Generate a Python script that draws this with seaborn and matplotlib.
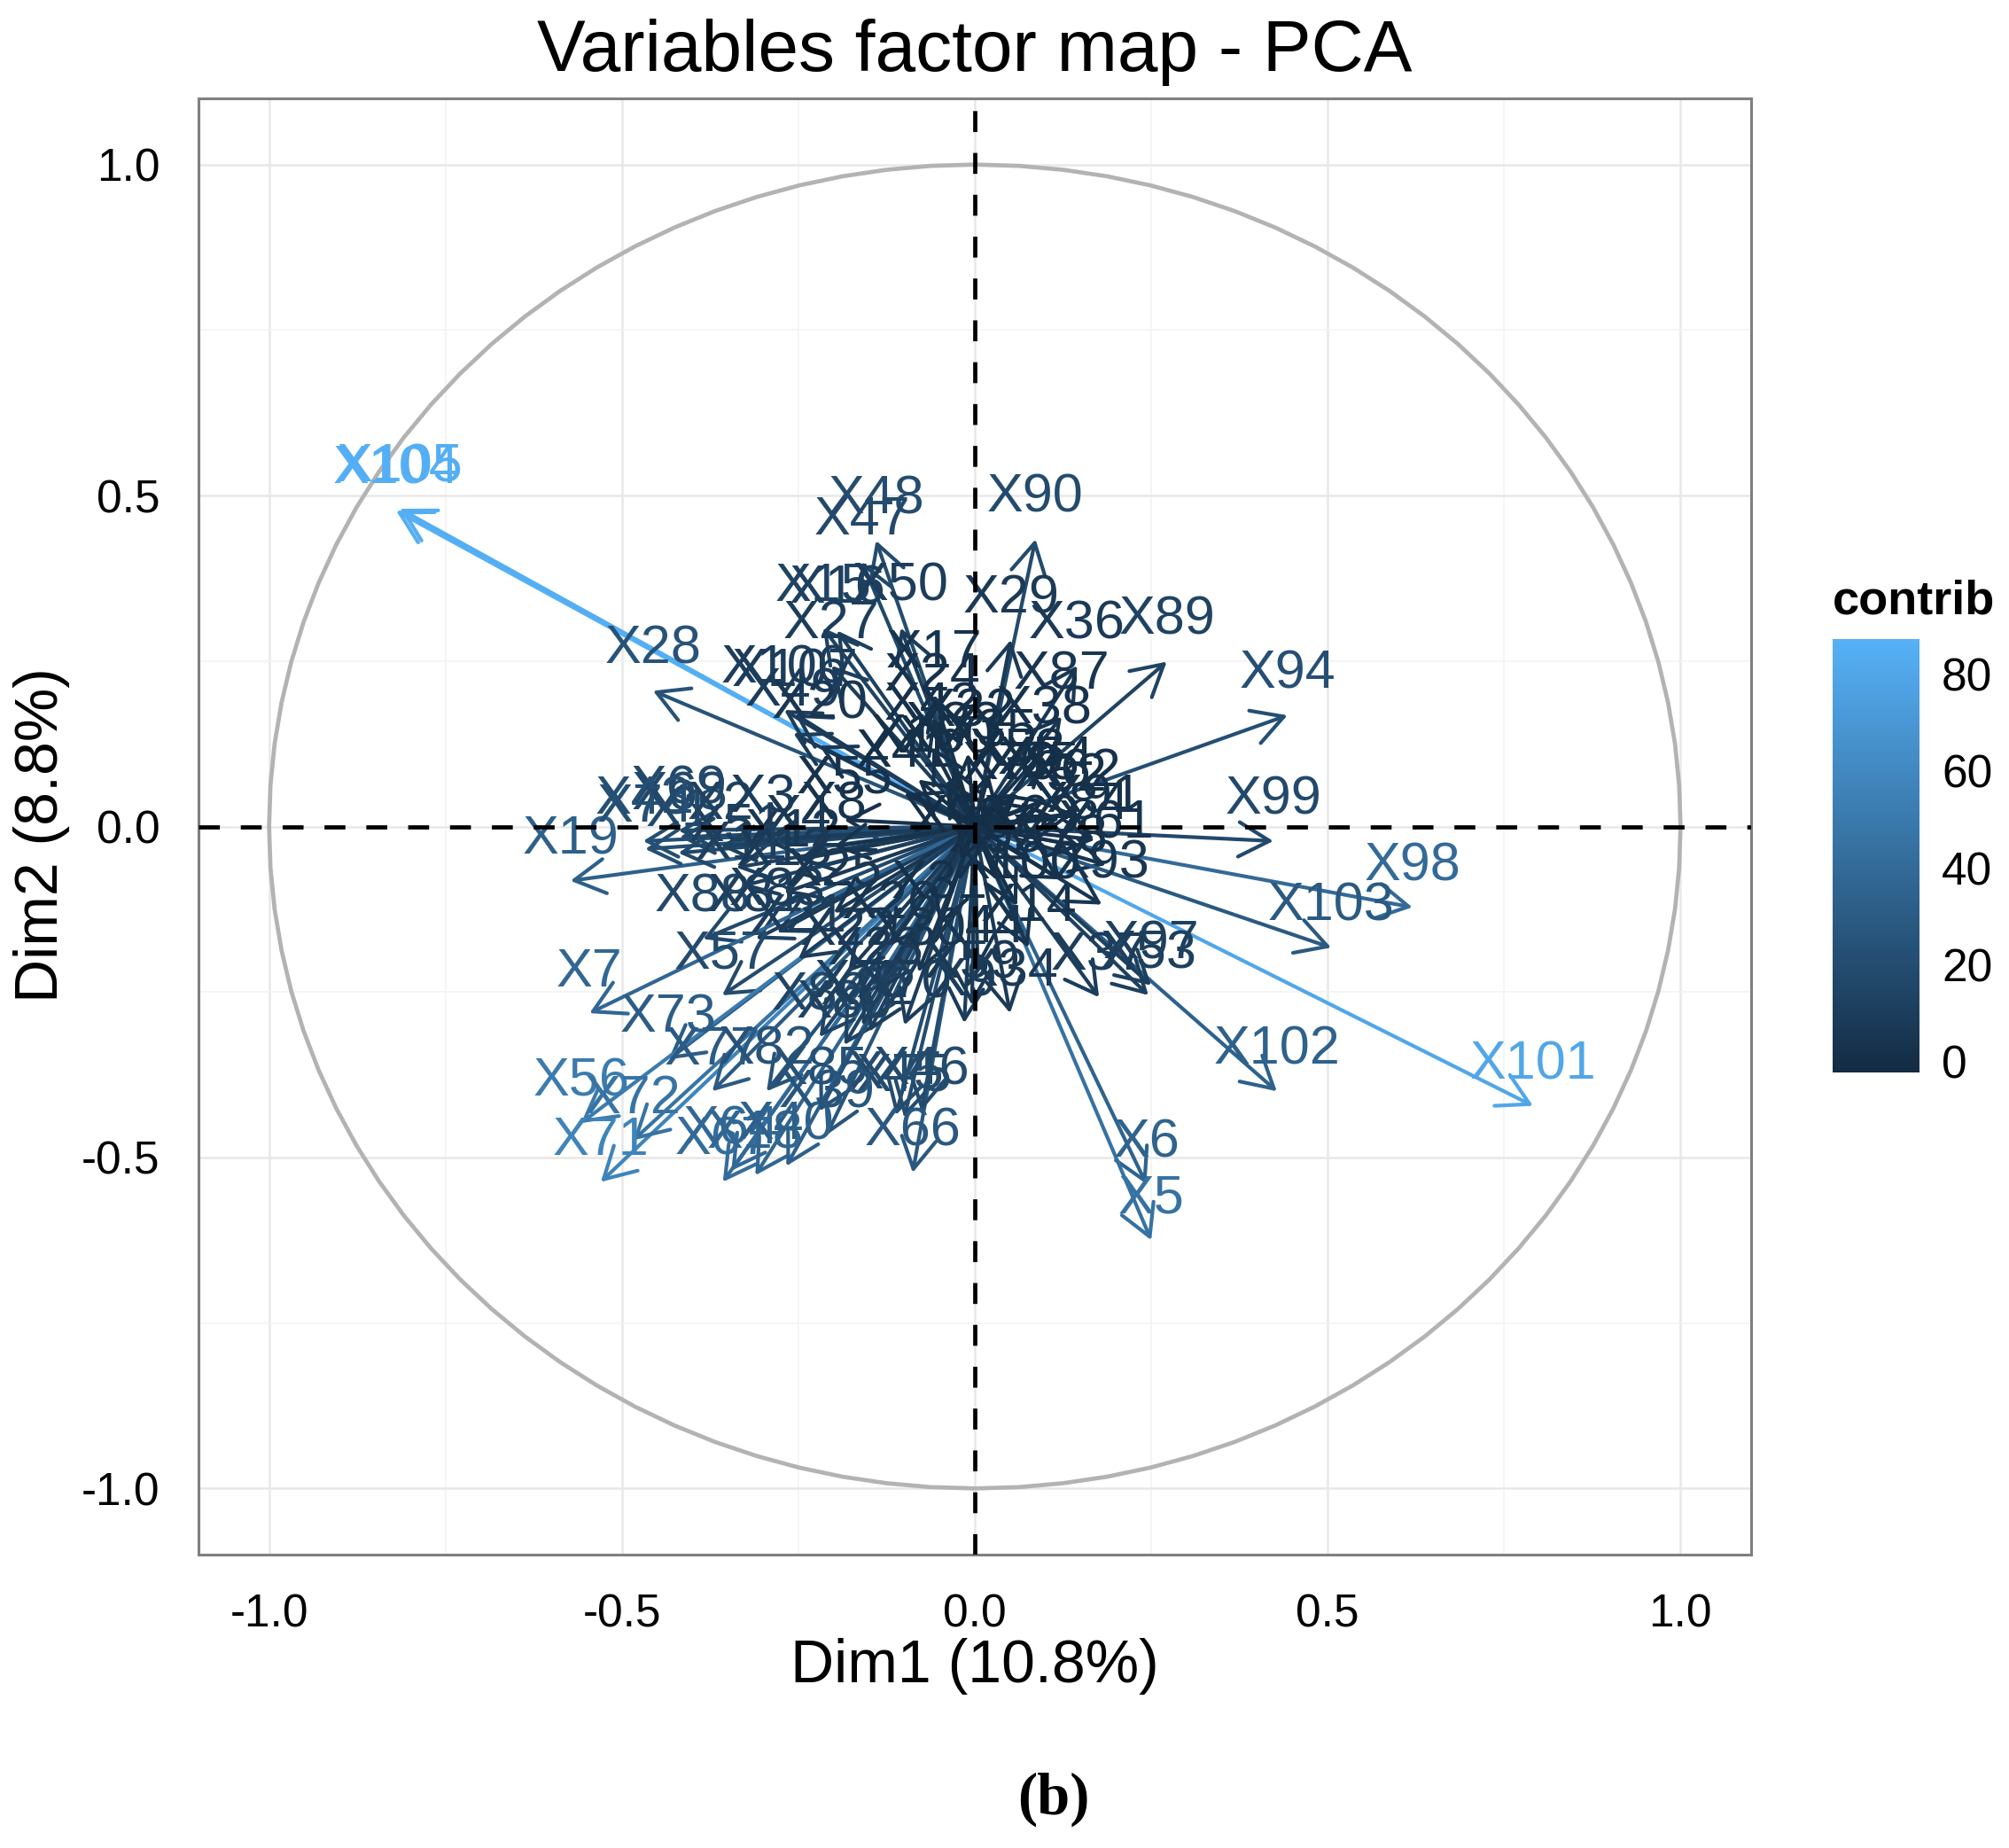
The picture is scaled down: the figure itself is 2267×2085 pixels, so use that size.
import numpy as np
import pandas as pd
import matplotlib
import matplotlib.pyplot as plt
import seaborn as sns

# variables: name, Dim1 coord, Dim2 coord, contrib
names = ["X104", "X105", "X101", "X28", "X48", "X47", "X90", "X15", "X16", "X50",
         "X29", "X27", "X36", "X89", "X94", "X99", "X87", "X38", "X17", "X24",
         "X106", "X107", "X49", "X20", "X55", "X10", "X60", "X32", "X65", "X52",
         "X58", "X61", "X93", "X98", "X103", "X102", "X6", "X5", "X53", "X97",
         "X37", "X34", "X44", "X14", "X19", "X74", "X69", "X68", "X43", "X51",
         "X12", "X88", "X81", "X83", "X57", "X7", "X73", "X56", "X71", "X72",
         "X77", "X82", "X67", "X64", "X18", "X40", "X86", "X80", "X76", "X85",
         "X45", "X75", "X66", "X39", "X46", "X59", "X9", "X92", "X70", "X1",
         "X2", "X3", "X4", "X8", "X11", "X13", "X21", "X22", "X23", "X25",
         "X26", "X30", "X31", "X33", "X35", "X41", "X42", "X54", "X62", "X63",
         "X78", "X79", "X84", "X91", "X95", "X96", "X100"]
dim1 = [-0.820, -0.815, 0.791, -0.456, -0.140, -0.160, 0.086, -0.215, -0.195, -0.105,
        0.051, -0.203, 0.145, 0.272, 0.443, 0.423, 0.123, 0.098, -0.058, -0.060,
        -0.270, -0.255, -0.257, -0.220, -0.185, -0.080, -0.040, -0.010, 0.080, 0.120,
        0.060, 0.186, 0.180, 0.620, 0.505, 0.428, 0.243, 0.250, 0.246, 0.250,
        0.176, 0.050, 0.004, 0.076, -0.573, -0.467, -0.420, -0.418, -0.470, -0.338,
        -0.257, -0.385, -0.310, -0.280, -0.358, -0.546, -0.434, -0.558, -0.530, -0.484,
        -0.372, -0.295, -0.357, -0.345, -0.311, -0.267, -0.220, -0.185, -0.160, -0.220,
        -0.112, -0.100, -0.088, -0.210, -0.076, -0.004, -0.015, -0.150, -0.100, -0.420,
        -0.360, -0.300, -0.250, -0.200, -0.330, -0.270, -0.250, -0.180, -0.140, -0.200,
        -0.120, -0.080, -0.050, -0.030, 0.020, -0.100, -0.060, 0.100, 0.140, 0.080,
        0.120, 0.050, 0.150, 0.170, 0.030, -0.020, 0.060]
dim2 = [0.477, 0.480, -0.422, 0.205, 0.432, 0.400, 0.434, 0.300, 0.296, 0.300,
        0.282, 0.243, 0.243, 0.249, 0.168, -0.022, 0.166, 0.115, 0.199, 0.164,
        0.176, 0.170, 0.141, 0.122, 0.010, 0.071, 0.070, 0.110, 0.030, 0.012,
        0.050, -0.058, -0.118, -0.122, -0.183, -0.400, -0.540, -0.625, -0.255, -0.240,
        -0.258, -0.282, -0.216, -0.183, -0.082, -0.034, -0.006, -0.016, -0.022, -0.062,
        -0.071, -0.170, -0.170, -0.160, -0.255, -0.282, -0.352, -0.448, -0.537, -0.474,
        -0.400, -0.400, -0.537, -0.520, -0.527, -0.513, -0.318, -0.330, -0.300, -0.430,
        -0.436, -0.440, -0.523, -0.466, -0.430, -0.270, -0.297, -0.310, -0.300, -0.040,
        -0.030, -0.020, -0.050, -0.030, -0.090, -0.100, -0.200, -0.220, -0.250, -0.130,
        -0.180, -0.220, -0.150, 0.090, 0.080, 0.050, 0.120, 0.040, 0.020, -0.050,
        -0.080, 0.030, -0.030, -0.020, -0.080, -0.050, -0.120]
contrib = [86, 85, 80, 25, 20, 18, 19, 14, 12, 10,
           8, 10, 8, 14, 22, 18, 5, 3, 4, 3,
           10, 9, 9, 6, 3, 1, 1, 1, 1, 1,
           1, 4, 5, 40, 29, 34, 35, 45, 12, 12,
           10, 8, 5, 4, 33, 22, 18, 18, 22, 12,
           7, 18, 12, 10, 19, 38, 31, 51, 57, 46,
           30, 25, 42, 39, 37, 33, 15, 14, 12, 23,
           20, 20, 28, 26, 19, 7, 9, 12, 10, 18,
           13, 9, 7, 4, 12, 8, 10, 8, 8, 6,
           5, 5, 2, 1, 1, 1, 2, 1, 2, 1,
           2, 0, 2, 3, 1, 0, 2]

df = pd.DataFrame({"name": names, "Dim1": dim1, "Dim2": dim2, "contrib": contrib})

sns.set_theme(style="white")
plt.rcParams['font.family'] = ['Liberation Sans', 'DejaVu Sans']
plt.rcParams['text.color'] = 'black'
plt.rcParams['axes.labelcolor'] = 'black'

cmap = sns.blend_palette(["#132B43", "#56B1F7"], as_cmap=True)
norm = matplotlib.colors.Normalize(vmin=-2.2, vmax=87.2)

W, H = 2267, 2085
fig = plt.figure(figsize=(W / 200, H / 200), dpi=200)
fig.patch.set_facecolor('white')
ax = fig.add_axes([224 / W, 1 - 1754 / H, (1976 - 224) / W, (1754 - 111) / H])
ax.set_facecolor('white')

# grid
ax.set_xticks([-1.0, -0.5, 0.0, 0.5, 1.0])
ax.set_yticks([-1.0, -0.5, 0.0, 0.5, 1.0])
ax.set_xticks([-0.75, -0.25, 0.25, 0.75], minor=True)
ax.set_yticks([-0.75, -0.25, 0.25, 0.75], minor=True)
ax.grid(True, which='major', color='#e8e8e8', lw=0.9)
ax.grid(True, which='minor', color='#f4f4f4', lw=0.6)
ax.set_axisbelow(True)

# correlation circle
theta = np.linspace(0, 2 * np.pi, 101)
circ = pd.DataFrame({"x": np.cos(theta), "y": np.sin(theta)})
sns.lineplot(data=circ, x="x", y="y", sort=False, estimator=None, color='#b3b3b3',
             lw=1.7, ax=ax, zorder=2)

# arrows
for _, r in df.iterrows():
    col = cmap(norm(r["contrib"]))
    ax.annotate("", xy=(r["Dim1"], r["Dim2"]), xytext=(0, 0),
                arrowprops=dict(arrowstyle="->,head_length=1.25,head_width=0.7",
                                color=col, lw=1.5, shrinkA=0, shrinkB=0,
                                mutation_scale=10), zorder=3)
for _, r in df.iterrows():
    col = cmap(norm(r["contrib"]))
    ax.annotate(r["name"], xy=(r["Dim1"], r["Dim2"]), xytext=(0, 11),
                textcoords='offset points', ha='center', va='baseline',
                fontsize=22, color=col, zorder=4)

ax.axhline(0, color='black', lw=1.7, ls=(0, (5, 5)), zorder=5)
ax.axvline(0, color='black', lw=1.7, ls=(0, (5, 5)), zorder=5)

ax.set_xlim(-1.1, 1.1)
ax.set_ylim(-1.1, 1.1)
ax.set_xticklabels(["-1.0", "-0.5", "0.0", "0.5", "1.0"])
ax.set_yticklabels(["-1.0", "-0.5", "0.0", "0.5", "1.0"])
ax.tick_params(axis='both', which='major', length=8.6, width=1.1, color='#333333',
               labelsize=18.5, labelcolor='black', pad=7)
ax.tick_params(axis='both', which='minor', length=0)
for s in ax.spines.values():
    s.set_color('#7f7f7f')
    s.set_linewidth(1.1)

ax.set_xlabel("Dim1 (10.8%)", fontsize=24.5, va='center')
ax.xaxis.set_label_coords(0.5, -(1880 - 1754) / 1643)
ax.set_ylabel("Dim2 (8.8%)", fontsize=24.5, va='center')
ax.yaxis.set_label_coords(-(224 - 47) / 1752, (1754 - 942) / 1643)
ax.text(0.5, 1 + (111 - 59) / 1643, "Variables factor map - PCA", transform=ax.transAxes,
        ha='center', va='center', fontsize=29.5, color='black')

# colour bar legend
cax = fig.add_axes([2068 / W, 1 - 1210 / H, 98 / W, 489 / H])
sm = matplotlib.cm.ScalarMappable(norm=norm, cmap=cmap)
cb = fig.colorbar(sm, cax=cax)
cb.outline.set_visible(False)
cb.set_ticks([0, 20, 40, 60, 80])
cax.tick_params(axis='y', which='both', direction='in', length=6.5, width=1.2,
                color='white', left=True, right=True, labelsize=18.5, pad=9,
                labelcolor='black')
fig.text(2068 / W, 1 - 679 / H, "contrib", fontsize=19.5, fontweight='bold',
         ha='left', va='center')

fig.text(1189 / W, 1 - 2030 / H, "(b)", fontsize=24, fontweight='bold',
         family=['Liberation Serif', 'DejaVu Serif'], ha='center', va='center')

fig.savefig("out.png", dpi=200)
